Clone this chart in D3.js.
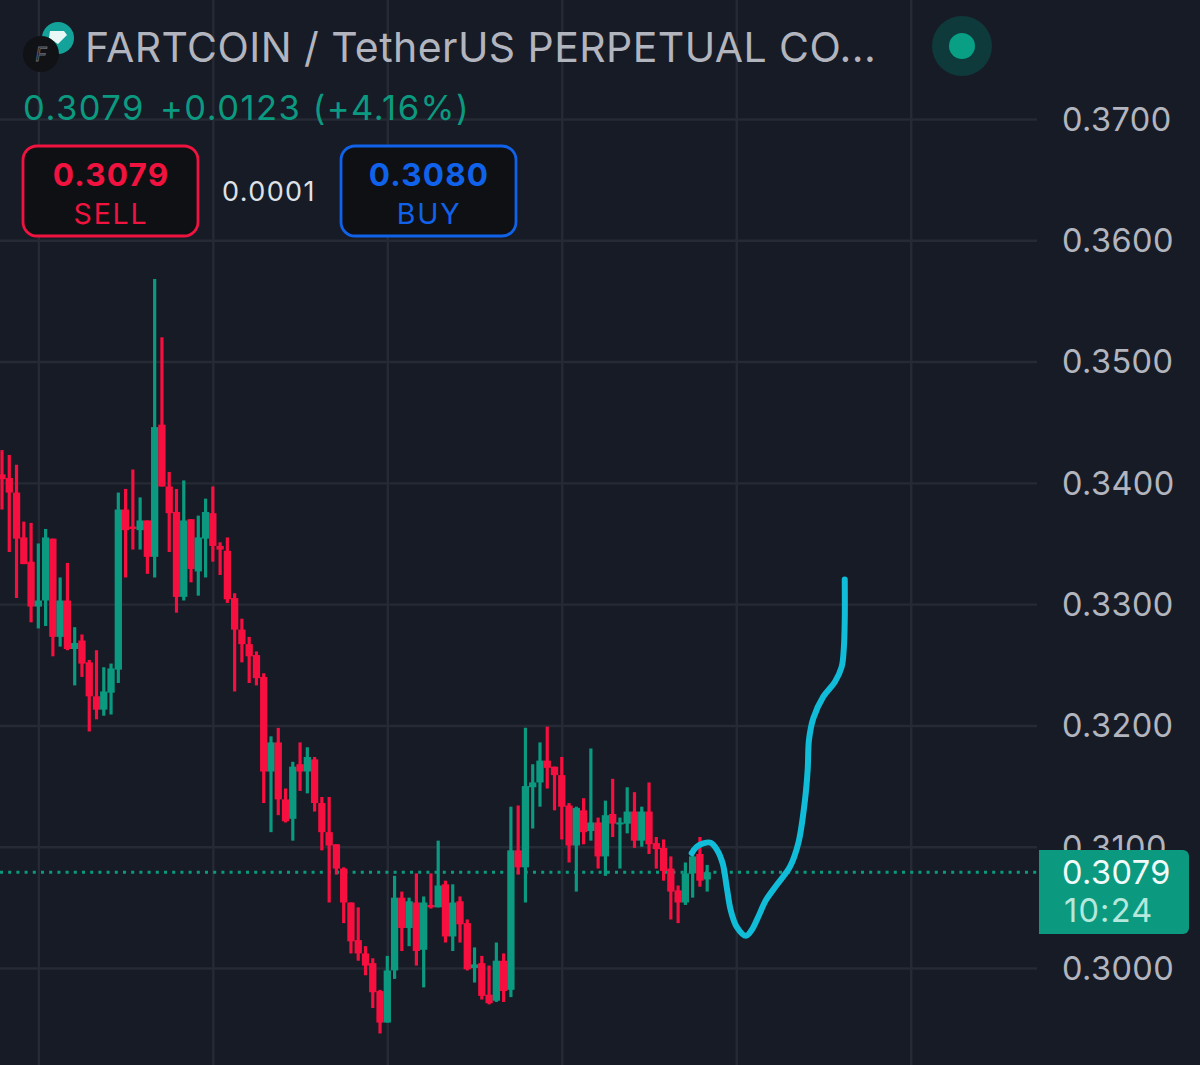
<!DOCTYPE html>
<html>
<head>
<meta charset="utf-8">
<script src="https://cdn.jsdelivr.net/npm/d3@7/dist/d3.min.js"></script>
<style>
html,body{margin:0;padding:0;background:#171b26;overflow:hidden}
svg{display:block}
text{font-family:Inter,"Noto Sans",sans-serif}
</style>
</head>
<body>
<svg id="chart" width="1200" height="1065"></svg>
<script>
const highs=[.3427,.3423,.3415,.3368,.3367,.3350,.3362,.3354,.3322,.3334,.3281,.3275,.3254,.3262,.3248,.3251,.3392,.3395,.3411,.3388,.3369,.3568,.3520,.3409,.3395,.3402,.3370,.3373,.3387,.3397,.3351,.3355,.3309,.3288,.3273,.3261,.3243,.3191,.3198,.3148,.3170,.3186,.3182,.3174,.3141,.3141,.3102,.3083,.3054,.3050,.3018,.3008,.2982,.3010,.3076,.3063,.3058,.3078,.3059,.3078,.3105,.3072,.3069,.3059,.3040,.3017,.3010,.3002,.3021,.3012,.3133,.3134,.3198,.3168,.3186,.3199,.3166,.3174,.3136,.3133,.3140,.3181,.3124,.3138,.3156,.3124,.3149,.3145,.3133,.3153,.3108,.3106,.3092,.3068,.3087,.3099,.3108,.3085];
const lows=[.3378,.3343,.3305,.3333,.3285,.3280,.3282,.3257,.3265,.3262,.3233,.3240,.3195,.3205,.3208,.3209,.3235,.3322,.3345,.3345,.3325,.3322,.3397,.3343,.3293,.3303,.3318,.3307,.3322,.3335,.3324,.3301,.3228,.3252,.3235,.3233,.3136,.3112,.3126,.3120,.3105,.3146,.3144,.3129,.3097,.3054,.3077,.3037,.3012,.3006,.2994,.2967,.2946,.2955,.2991,.3014,.3018,.3002,.2984,.3049,.3050,.3021,.3014,.3021,.2998,.2988,.2974,.2970,.2972,.2972,.2976,.3077,.3054,.3115,.3133,.3148,.3130,.3106,.3087,.3063,.3102,.3105,.3082,.3076,.3108,.3082,.3111,.3099,.3100,.3094,.3082,.3072,.3040,.3037,.3052,.3058,.3067,.3063];
const opens=[.3407,.3404,.3392,.3355,.3335,.3298,.3303,.3354,.3273,.3303,.3263,.3270,.3252,.3224,.3213,.3227,.3246,.3378,.3364,.3361,.3369,.3339,.3448,.3397,.3376,.3306,.3370,.3327,.3354,.3375,.3348,.3344,.3305,.3279,.3267,.3258,.3240,.3162,.3186,.3139,.3123,.3168,.3162,.3172,.3136,.3112,.3102,.3082,.3054,.3023,.3012,.3004,.2981,.2955,.2998,.3058,.3033,.3054,.3015,.3052,.3050,.3069,.3026,.3055,.3037,.3000,.3004,.2978,.2973,.3006,.2982,.3097,.3083,.3149,.3153,.3171,.3166,.3159,.3134,.3101,.3130,.3113,.3120,.3092,.3127,.3119,.3119,.3129,.3105,.3129,.3103,.3099,.3082,.3064,.3054,.3078,.3094,.3073];
const closes=[.3403,.3392,.3354,.3333,.3298,.3303,.3355,.3273,.3303,.3263,.3268,.3251,.3224,.3213,.3228,.3247,.3378,.3361,.3362,.3369,.3339,.3446,.3397,.3375,.3306,.3369,.3329,.3355,.3376,.3348,.3345,.3304,.3279,.3267,.3257,.3239,.3162,.3186,.3139,.3121,.3166,.3162,.3174,.3136,.3112,.3101,.3082,.3054,.3022,.3012,.3002,.2980,.2955,.2998,.3058,.3033,.3055,.3014,.3054,.3050,.3068,.3026,.3054,.3036,.2999,.3003,.2977,.2971,.3006,.2981,.3097,.3083,.3150,.3153,.3171,.3165,.3159,.3133,.3101,.3132,.3112,.3120,.3092,.3126,.3119,.3120,.3129,.3105,.3129,.3102,.3098,.3080,.3063,.3054,.3078,.3092,.3072,.3079];

// hand-drawn forecast stroke: bar position and price
const sketchBars=[94.87,95.56,96.46,97.48,98.31,99.13,99.68,100.23,101.06,102.34,103.12,104.03,105.09,106.56,108.39,109.53,110.45,110.82,111.0,111.6,112.97,114.58,115.5,115.78,115.92,115.92];
const sketchPrices=[.30948,.3100,.31028,.31033,.30979,.30863,.3067,.30478,.3034,.30266,.30313,.30423,.3056,.30684,.30835,.31028,.31385,.31632,.3188,.32059,.32237,.3236,.32484,.32622,.32869,.33204];

const priceTicks=[.37,.36,.35,.34,.33,.32,.31,.30];
const gridBars=[5,29,53,77,101,125];
const lastPrice=0.3079;
const titleText="FARTCOIN / TetherUS PERPETUAL CO...";
const quotePrice="0.3079", quoteChange="+0.0123 (+4.16%)";
const sellPrice="0.3079", buyPrice="0.3080", spreadText="0.0001", countdown="10:24";

const W=1200,H=1065,plotRight=1037;
const UP="#0b9a80",DOWN="#f7103f",GRID="#262a35",LABEL="#b2b5be";
const x=d3.scaleLinear().domain([0,1]).range([2,9.27]);
const y=d3.scaleLinear().domain([.30,.37]).range([968,119]);
const svg=d3.select("#chart");
svg.append("rect").attr("width",W).attr("height",H).attr("fill","#171b26");

// grid via axes
const hGrid=svg.append("g")
  .call(d3.axisRight(y).tickValues(priceTicks).tickSize(plotRight).tickFormat(""));
hGrid.select(".domain").remove();
hGrid.selectAll("line").attr("stroke",GRID).attr("stroke-width",2.4);
const vGrid=svg.append("g")
  .call(d3.axisBottom(x).tickValues(gridBars).tickSize(H).tickFormat(""));
vGrid.select(".domain").remove();
vGrid.selectAll("line").attr("stroke",GRID).attr("stroke-width",2.4);

// last price dotted line
svg.append("line").attr("x1",0).attr("x2",plotRight).attr("y1",y(lastPrice)).attr("y2",y(lastPrice))
  .attr("stroke",UP).attr("stroke-width",3).attr("stroke-dasharray","3 5.2");

// candles
const idx=d3.range(highs.length);
const col=i=>closes[i]>=opens[i]?UP:DOWN;
const c=svg.append("g");
c.selectAll("line.w").data(idx).join("line").attr("class","w")
  .attr("x1",x).attr("x2",x).attr("y1",i=>y(highs[i])).attr("y2",i=>y(lows[i]))
  .attr("stroke",col).attr("stroke-width",3.2);
c.selectAll("rect").data(idx).join("rect")
  .attr("x",i=>x(i)-3.65).attr("width",7.3)
  .attr("y",i=>y(Math.max(opens[i],closes[i])))
  .attr("height",i=>Math.max(2,Math.abs(y(opens[i])-y(closes[i]))))
  .attr("fill",col);

// forecast sketch
const line=d3.line().x(d=>x(d[0])).y(d=>y(d[1])).curve(d3.curveCatmullRom.alpha(.5));
svg.append("path").attr("d",line(d3.zip(sketchBars,sketchPrices)))
  .attr("fill","none").attr("stroke","#10bcd8").attr("stroke-width",6).attr("stroke-linecap","round").attr("stroke-linejoin","round");

// price axis labels
const axisG=svg.append("g").attr("transform","translate(1062,1)")
  .call(d3.axisRight(y).tickValues(priceTicks).tickSize(0).tickPadding(0).tickFormat(d3.format(".4f")));
axisG.select(".domain").remove();
axisG.selectAll("text").attr("fill",LABEL).attr("font-size",32.5).attr("font-family","Inter,sans-serif").attr("letter-spacing",".4");

// price tag
svg.append("path").attr("d","M1039 850H1183a6 6 0 0 1 6 6V928a6 6 0 0 1-6 6H1039Z").attr("fill",UP);
svg.append("text").attr("x",1062).attr("y",884).attr("font-size",32.5).attr("letter-spacing",".4").attr("fill","#f2fbf9").text(d3.format(".4f")(lastPrice));
svg.append("text").attr("x",1064).attr("y",922).attr("font-size",32.5).attr("letter-spacing","1.2").attr("fill","#b5e8dc").text(countdown);

// header
svg.append("circle").attr("cx",58).attr("cy",38).attr("r",16).attr("fill","#14a39a");
svg.append("path").attr("d","M50 31H64L67 35L58 44L49 38Z").attr("fill","#e8f8f6");
svg.append("circle").attr("cx",41).attr("cy",54).attr("r",18).attr("fill","#101216");
svg.append("text").attr("x",41).attr("y",61).attr("text-anchor","middle").attr("font-size",19).attr("font-style","italic")
  .attr("fill","none").attr("stroke","#6a6d75").attr("stroke-width",.8).text("F");
svg.append("text").attr("x",85).attr("y",62).attr("font-size",41).attr("letter-spacing",".43").attr("fill",LABEL).text(titleText);
svg.append("circle").attr("cx",962).attr("cy",46).attr("r",30).attr("fill","#0f3a3c");
svg.append("circle").attr("cx",962).attr("cy",46).attr("r",13).attr("fill","#089f85");
svg.append("text").attr("x",23).attr("y",120).attr("font-size",34.5).attr("letter-spacing","1.5").attr("fill",UP).text(quotePrice);
svg.append("text").attr("x",160).attr("y",120).attr("font-size",34.5).attr("letter-spacing","1.5").attr("fill",UP).text(quoteChange);

// order buttons
function button(bx,color,price,label){
  svg.append("rect").attr("x",bx).attr("y",146).attr("width",175).attr("height",90).attr("rx",14)
    .attr("fill","#0f1013").attr("stroke",color).attr("stroke-width",2.8);
  svg.append("text").attr("x",bx+88).attr("y",186).attr("text-anchor","middle").attr("font-size",31.5).attr("font-weight",700).attr("letter-spacing","1.2").attr("fill",color).text(price);
  svg.append("text").attr("x",bx+88).attr("y",224).attr("text-anchor","middle").attr("font-size",28.5).attr("letter-spacing","1.8").attr("fill",color).text(label);
}
button(23,"#f0133f",sellPrice,"SELL");
button(341,"#1162ea",buyPrice,"BUY");
svg.append("text").attr("x",222).attr("y",201).attr("font-size",27).attr("fill","#dfe1e6").attr("letter-spacing","1.4").text(spreadText);
</script>
</body>
</html>
